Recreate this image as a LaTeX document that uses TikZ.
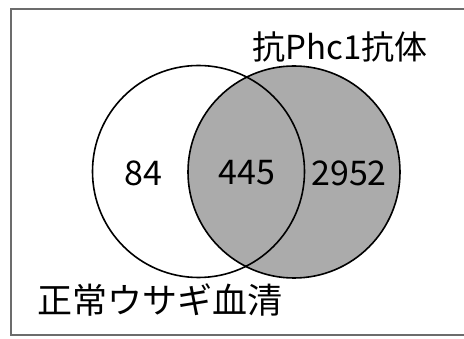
\documentclass[tikz,border=0pt]{standalone}
\usepackage{fontspec}
\setmainfont{Noto Sans CJK JP}
\begin{document}
\begin{tikzpicture}[x=1pt,y=1pt,
  ring/.style={draw=black,line width=1.6pt},
  lbl/.style={inner sep=0pt,font=\fontsize{33}{36}\selectfont},
  num/.style={inner sep=0pt,font=\fontsize{34}{36}\selectfont}]
\useasboundingbox (0,0) rectangle (464,338);
\fill[white] (0,0) rectangle (464,338);
\draw[draw=gray!85!black,line width=1.4pt] (11,3) rectangle (470,329);
\fill[fill=black!33] (294,166) circle (106);
\draw[ring] (198.5,166.5) circle (106);
\draw[ring] (294,166) circle (106);
\node[num] (a) at (143,165) {84};
\node[num] (b) at (247,165) {445};
\node[num] (c) at (349,165) {2952};
\node[lbl] (t) at (340,291) {抗Phc1抗体};
\node[lbl,font=\fontsize{35}{38}\selectfont] (s) at (160,38) {正常ウサギ血清};
\end{tikzpicture}
\end{document}
